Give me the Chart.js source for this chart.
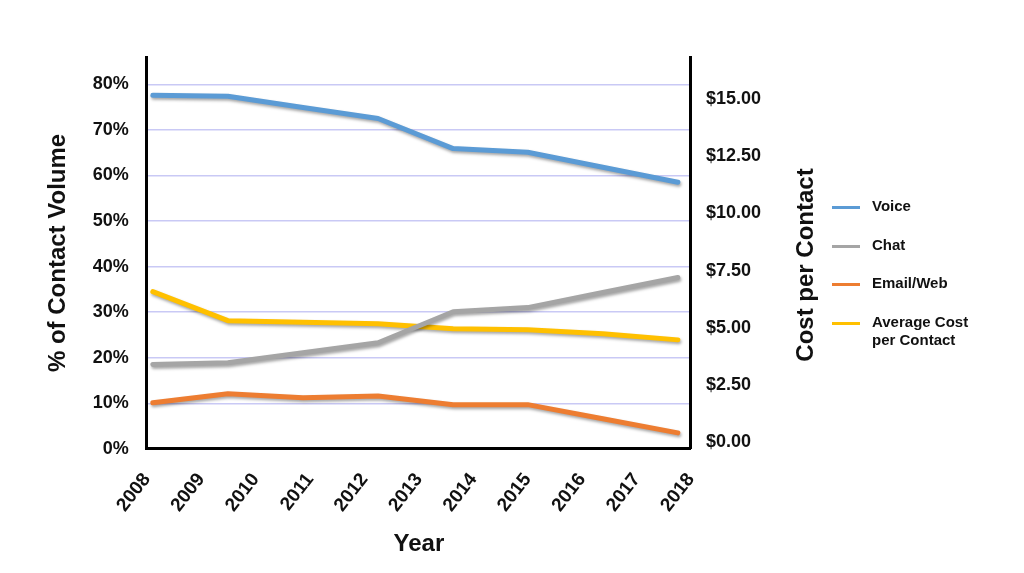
<!DOCTYPE html>
<html>
<head>
<meta charset="utf-8">
<script src="https://cdn.jsdelivr.net/npm/chart.js@4"></script>
<style>
body{margin:0;background:#fff;font-family:"Liberation Sans",Arial,sans-serif;}
#wrap{position:relative;width:1024px;height:573px;}
#legend{position:absolute;left:832px;top:197px;width:160px;}
.item{position:relative;height:38.5px;font-weight:bold;font-size:15px;color:#111;line-height:18px;}
.item span.sw{position:absolute;left:0;top:9px;width:28px;height:3px;}
.item span.tx{position:absolute;left:40px;top:0;}
#tituloDir{position:absolute;left:805px;top:265px;transform:translate(-50%,-50%) rotate(-90deg);white-space:nowrap;font-weight:bold;font-size:24px;color:#111;}
</style>
</head>
<body>
<div id="wrap">
<canvas id="grafico" width="1024" height="573"></canvas>
<div id="legend"></div>
<div id="tituloDir">Cost per Contact</div>
</div>
<script>
const years=[2008,2009,2010,2011,2012,2013,2014,2015,2016,2017,2018];
const pointYears=[2008.11,2009.49,2010.87,2012.25,2013.63,2015.0,2016.38,2017.76];
const voice=[77.6,77.4,74.9,72.5,65.9,65.1,61.8,58.5];
const chat=[18.5,18.9,21.1,23.3,30.1,31.0,34.3,37.6];
const emailWeb=[10.1,12.1,11.2,11.6,9.7,9.7,6.6,3.5];
const avgCost=[6.58,5.31,5.24,5.18,4.96,4.91,4.74,4.47];
const pctTicks=[0,10,20,30,40,50,60,70,80];
const costTicks=[0,2.5,5,7.5,10,12.5,15];

const series=[
{label:"Voice",data:voice,color:"#5B9BD5",axis:"y"},
{label:"Chat",data:chat,color:"#A5A5A5",axis:"y"},
{label:"Email/Web",data:emailWeb,color:"#ED7D31",axis:"y"},
{label:"Average Cost per Contact",data:avgCost,color:"#FFC000",axis:"y1"}
];

const fonte="'Liberation Sans', Arial, sans-serif";

const sombra={
id:"sombra",
beforeDatasetDraw(chart){
const c=chart.ctx;
c.save();
c.shadowColor="rgba(0,0,0,0.35)";
c.shadowBlur=3;
c.shadowOffsetX=1;
c.shadowOffsetY=2;
},
afterDatasetDraw(chart){
chart.ctx.restore();
}
};

new Chart(document.getElementById("grafico"),{
type:"line",
data:{
datasets:series.map(s=>({
label:s.label,
data:s.data.map((v,i)=>({x:pointYears[i],y:v})),
borderColor:s.color,
backgroundColor:s.color,
borderWidth:5,
pointRadius:0,
tension:0,
borderCapStyle:"round",
borderJoinStyle:"round",
yAxisID:s.axis
}))
},
options:{
responsive:false,
animation:false,
layout:{padding:{left:40,right:256,top:57,bottom:10}},
plugins:{legend:{display:false},tooltip:{enabled:false}},
scales:{
x:{
type:"linear",
min:2008,
max:2018,
afterBuildTicks:a=>{a.ticks=years.map(v=>({value:v}));},
grid:{display:false},
border:{color:"#000",width:3},
ticks:{
callback:v=>String(v),
minRotation:52,
maxRotation:52,
padding:12,
color:"#111",
font:{family:fonte,size:19,weight:"bold"}
},
title:{display:true,text:"Year",color:"#111",font:{family:fonte,size:24,weight:"bold"},padding:{top:2,bottom:4}}
},
y:{
position:"left",
min:0,
max:86,
afterBuildTicks:a=>{a.ticks=pctTicks.map(v=>({value:v}));},
grid:{color:"#c9c9f5",lineWidth:1.5,drawTicks:false},
border:{color:"#000",width:3},
ticks:{
callback:v=>v+"%",
padding:18,
color:"#111",
font:{family:fonte,size:18,weight:"bold"}
},
title:{display:true,text:"% of Contact Volume",color:"#111",font:{family:fonte,size:24,weight:"bold"},padding:{top:4,bottom:2}}
},
y1:{
position:"right",
min:-0.3,
max:16.85,
afterBuildTicks:a=>{a.ticks=costTicks.map(v=>({value:v}));},
grid:{display:false},
border:{color:"#000",width:3},
ticks:{
callback:v=>"$"+v.toFixed(2),
padding:7,
color:"#111",
font:{family:fonte,size:18,weight:"bold"}
}
}
}
},
plugins:[sombra]
});

let legenda=document.getElementById("legend");
series.forEach(s=>{
legenda.innerHTML+=`
<div class="item">
<span class="sw" style="background:${s.color}"></span>
<span class="tx">${s.label.replace("Cost per","Cost<br>per")}</span>
</div>
`;
});
</script>
</body>
</html>
